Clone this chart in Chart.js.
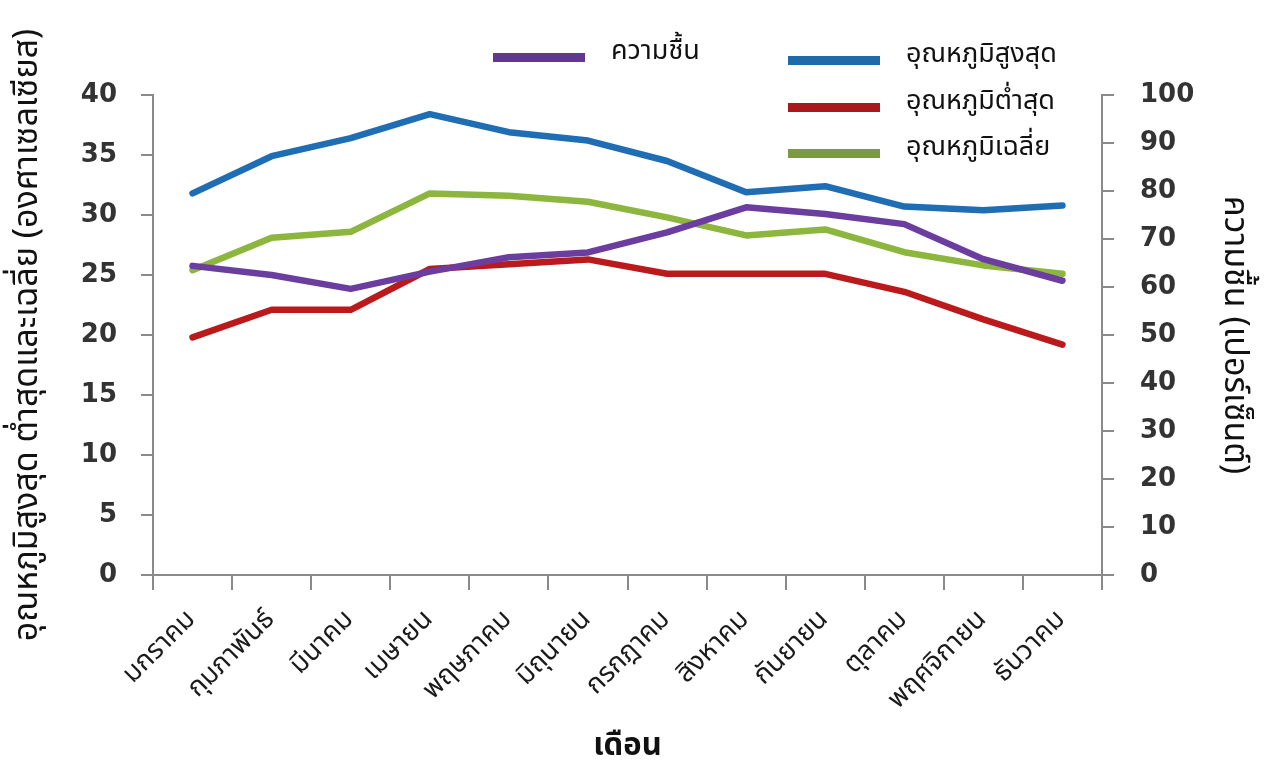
<!DOCTYPE html>
<html>
<head>
<meta charset="utf-8">
<script src="https://cdn.jsdelivr.net/npm/chart.js@4/dist/chart.umd.min.js"></script>
<style>
  html, body { margin: 0; padding: 0; background: #fff; }
  #wrap { position: relative; width: 1272px; height: 767px; }
  #chart { position: absolute; left: 0; top: 0; }
  .sw { position: absolute; width: 92px; height: 9px; }
  .lt { position: absolute; font-family: Tahoma, "Noto Sans Thai", "Noto Sans", "DejaVu Sans", sans-serif;
        font-size: 27px; color: #111; line-height: 34px; white-space: nowrap; transform: translateY(-50%); }
</style>
</head>
<body>
<div id="wrap">
  <canvas id="chart" width="1272" height="767"></canvas>
</div>
<script>
// Months of the year
const months = ['มกราคม', 'กุมภาพันธ์', 'มีนาคม', 'เมษายน', 'พฤษภาคม', 'มิถุนายน',
                'กรกฎาคม', 'สิงหาคม', 'กันยายน', 'ตุลาคม', 'พฤศจิกายน', 'ธันวาคม'];

// Relative humidity (%)
const humidity = [64.4, 62.5, 59.6, 63.2, 66.2, 67.2, 71.4, 76.6, 75.2, 73.1, 65.8, 61.3];
// Temperatures (°C)
const tempMax = [31.8, 34.9, 36.4, 38.4, 36.9, 36.2, 34.5, 31.9, 32.4, 30.7, 30.4, 30.8];
const tempMin = [19.8, 22.1, 22.1, 25.5, 25.9, 26.3, 25.1, 25.1, 25.1, 23.6, 21.3, 19.2];
const tempAvg = [25.4, 28.1, 28.6, 31.8, 31.6, 31.1, 29.8, 28.3, 28.8, 26.9, 25.8, 25.1];

// Axis tick values
const tempTicks = [0, 5, 10, 15, 20, 25, 30, 35, 40];
const humidityTicks = [0, 10, 20, 30, 40, 50, 60, 70, 80, 90, 100];

// Series names
const seriesNames = ['ความชื้น', 'อุณหภูมิสูงสุด', 'อุณหภูมิต่ำสุด', 'อุณหภูมิเฉลี่ย'];

const thaiFont = 'Tahoma, "Noto Sans Thai", "Noto Sans", "DejaVu Sans", sans-serif';
const numFont = '"DejaVu Sans", Verdana, sans-serif';
const axisGray = '#8a8a8a';

const colors = {
  humidity: '#6a3d9e',
  max: '#1f6db3',
  min: '#bb1a1c',
  avg: '#8cb63d'
};
const swatchColors = ['#60398f', '#1f6aa8', '#a8181c', '#7b9a46'];

// Canvas layout
const AREA = { left: 153, right: 1102, top: 95, bottom: 575 };
const W = 1272, H = 767;

function fixedTicks(values) {
  return function (scale) { scale.ticks = values.map(v => ({ value: v })); };
}

const line = (label, data, color, axis) => ({
  label, data, yAxisID: axis,
  borderColor: color, backgroundColor: color,
  borderWidth: 6.5, pointRadius: 0, tension: 0,
  borderJoinStyle: 'round', borderCapStyle: 'round', fill: false
});

const chart = new Chart(document.getElementById('chart'), {
  type: 'line',
  data: {
    labels: months,
    datasets: [
      line(seriesNames[0], humidity, colors.humidity, 'y1'),
      line(seriesNames[1], tempMax, colors.max, 'y'),
      line(seriesNames[2], tempMin, colors.min, 'y'),
      line(seriesNames[3], tempAvg, colors.avg, 'y')
    ]
  },
  options: {
    responsive: false,
    animation: false,
    events: [],
    layout: { padding: { top: AREA.top, left: 0, right: 0, bottom: 0 } },
    plugins: { legend: { display: false }, tooltip: { enabled: false } },
    scales: {
      x: {
        offset: true,
        grid: { offset: true, drawOnChartArea: false, color: axisGray, lineWidth: 2, tickLength: 15 },
        border: { color: axisGray, width: 2 },
        ticks: {
          minRotation: 45, maxRotation: 45, padding: 15, autoSkip: false,
          font: { family: thaiFont, size: 27 }, color: '#1a1a1a'
        },
        title: {
          display: true, text: 'เดือน',
          font: { family: thaiFont, size: 31, weight: 'bold' }, color: '#111',
          padding: { top: 3, bottom: 0 }
        },
        afterFit(scale) { scale.height = H - AREA.bottom; }
      },
      y: {
        position: 'left', min: 0, max: 40,
        afterBuildTicks: fixedTicks(tempTicks),
        grid: { drawOnChartArea: false, color: axisGray, lineWidth: 2, tickLength: 12 },
        border: { color: axisGray, width: 2 },
        ticks: { padding: 24, font: { family: numFont, size: 26, weight: 'bold' }, color: '#333' },
        title: {
          display: true, text: 'อุณหภูมิสูงสุด ต่ำสุดและเฉลี่ย (องศาเซลเซียส)',
          font: { family: thaiFont, size: 34 }, color: '#111', padding: { top: 10, bottom: 0 }
        },
        afterFit(scale) { scale.width = AREA.left; }
      },
      y1: {
        position: 'right', min: 0, max: 100,
        afterBuildTicks: fixedTicks(humidityTicks),
        grid: { drawOnChartArea: false, color: axisGray, lineWidth: 2, tickLength: 12 },
        border: { color: axisGray, width: 2 },
        ticks: { padding: 26, font: { family: numFont, size: 26, weight: 'bold' }, color: '#333' },
        title: {
          display: true, text: 'ความชื้น (เปอร์เซ็นต์)',
          font: { family: thaiFont, size: 34 }, color: '#111', padding: { top: 20, bottom: 0 }
        },
        afterFit(scale) { scale.width = W - AREA.right; }
      }
    }
  }
});

// Legend: one item on the left, three stacked on the right
const legendSlots = [
  { x: 493, y: 57 },
  { x: 788, y: 60 },
  { x: 788, y: 107 },
  { x: 788, y: 153 }
];
const wrap = document.getElementById('wrap');
chart.data.datasets.forEach((ds, i) => {
  const slot = legendSlots[i];
  const sw = document.createElement('div');
  sw.className = 'sw';
  sw.style.left = slot.x + 'px';
  sw.style.top = (slot.y - 4) + 'px';
  sw.style.background = swatchColors[i];
  wrap.appendChild(sw);
  const t = document.createElement('div');
  t.className = 'lt';
  t.textContent = ds.label;
  t.style.left = (slot.x + 118) + 'px';
  t.style.top = (slot.y - 6) + 'px';
  wrap.appendChild(t);
});
</script>
</body>
</html>
